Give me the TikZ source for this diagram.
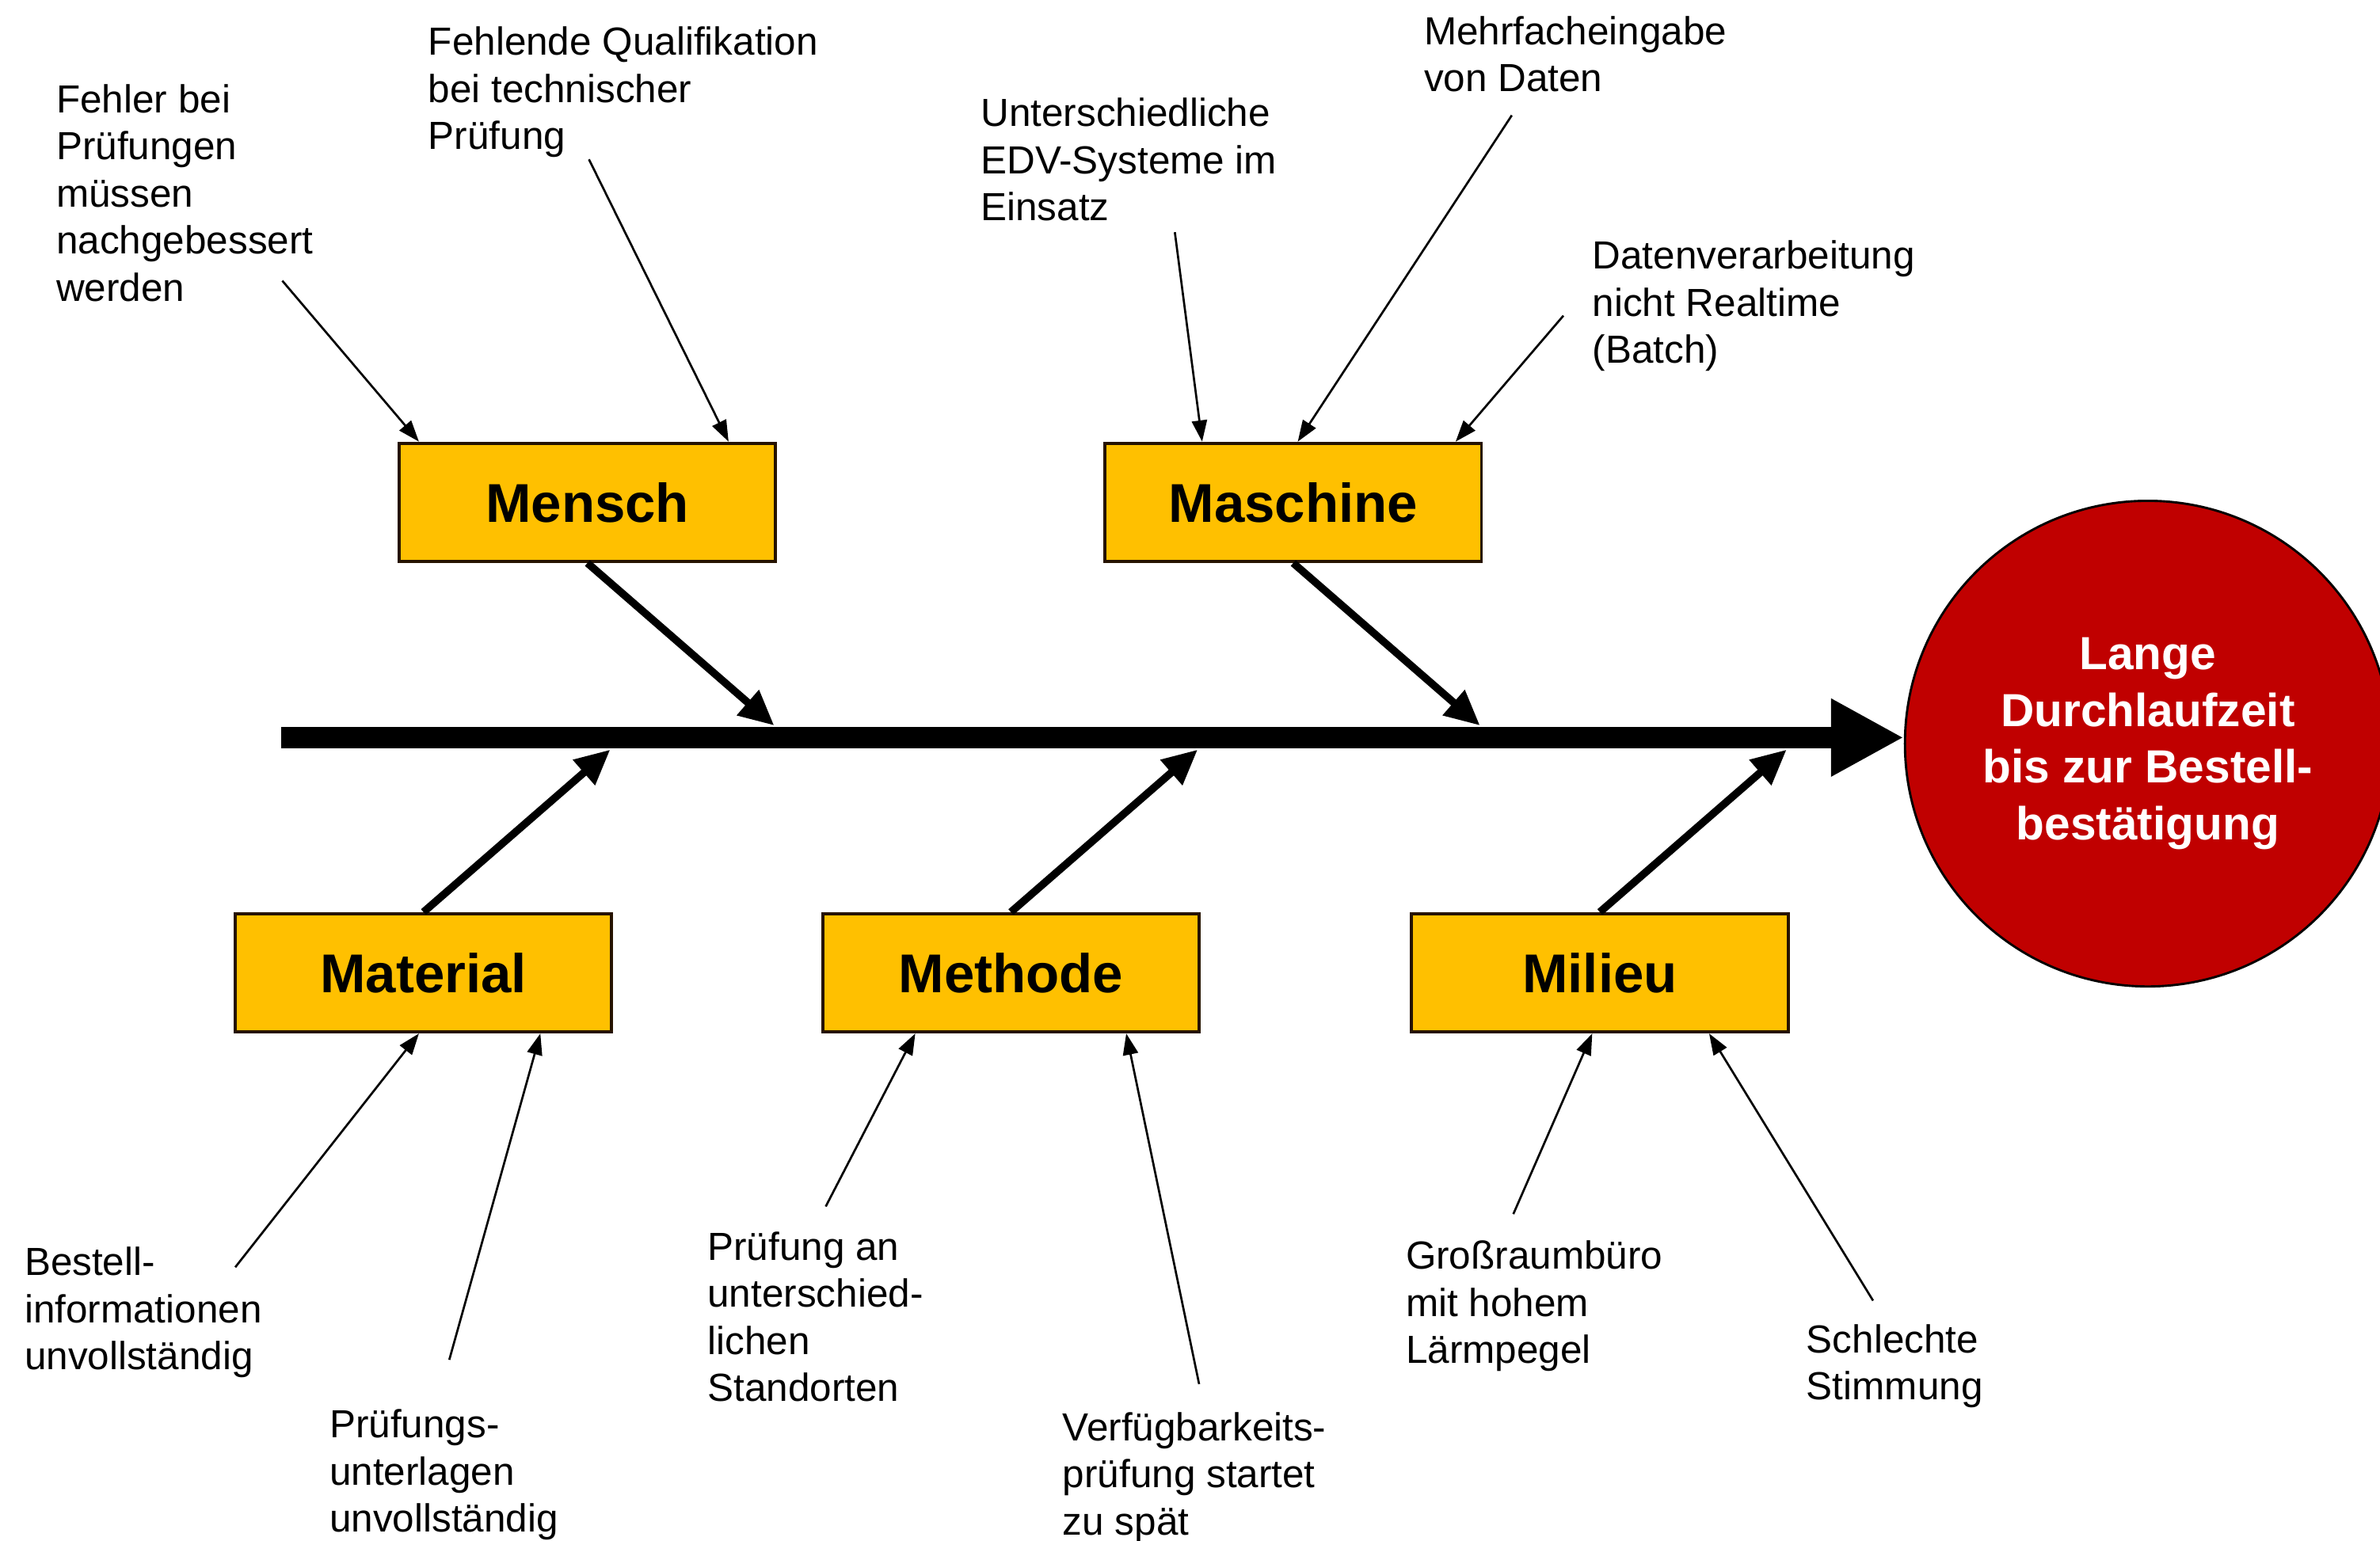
\documentclass[tikz,border=0pt]{standalone}
\usepackage{fontspec}
\setmainfont{Liberation Sans}
\usetikzlibrary{arrows.meta}
\definecolor{boxfill}{HTML}{FFC000}
\definecolor{effectred}{HTML}{C00000}
\begin{document}
\begin{tikzpicture}[x=1pt,y=-1pt,
  cat/.style={draw=black!85!orange, line width=2pt, fill=boxfill, minimum width=248pt, minimum height=78pt, inner sep=0pt, font=\fontsize{36}{43}\selectfont\bfseries},
  lbl/.style={anchor=north west, inner sep=0pt, align=left, font=\fontsize{25.8}{31}\selectfont},
  thinarrow/.style={line width=1.4pt, -{Triangle[length=14pt,width=10pt]}},
  brancharrow/.style={line width=5pt, -{Triangle[length=23pt,width=21pt]}},
  spinearrow/.style={line width=14pt, -{Triangle[length=48pt,width=48pt]}},
  effectnode/.style={circle, draw=black, line width=1.5pt, fill=effectred, minimum size=320pt, inner sep=0pt, text=white, align=center, font=\fontsize{30.6}{37.3}\selectfont\bfseries}]
\useasboundingbox (0,0) rectangle (1568,1015);

% effect
\node[effectnode] (effect) at (1415,490) {Lange\\Durchlaufzeit\\bis zur Bestell-\\bestätigung};
\coordinate (tail) at (185,486);
\draw[spinearrow] (tail) -- (tail -| effect.west);

% categories
\node[cat] (mensch) at (387,331) {Mensch};
\node[cat] (maschine) at (852,331) {Maschine};
\node[cat] (material) at (279,641) {Material};
\node[cat] (methode) at (666,641) {Methode};
\node[cat] (milieu) at (1054,641) {Milieu};

\coordinate (sp1) at (510,478);
\coordinate (sp2) at (975,478);
\coordinate (sp3) at (402,494);
\coordinate (sp4) at (789,494);
\coordinate (sp5) at (1177,494);
\draw[brancharrow] (mensch.south) -- (sp1);
\draw[brancharrow] (maschine.south) -- (sp2);
\draw[brancharrow] (material.north) -- (sp3);
\draw[brancharrow] (methode.north) -- (sp4);
\draw[brancharrow] (milieu.north) -- (sp5);

% labels
\node[lbl] (t1) at (37,55.5) {Fehler bei\\Prüfungen\\müssen\\nachgebessert\\werden};
\node[lbl] (t2) at (282,17.5) {Fehlende Qualifikation\\bei technischer\\Prüfung};
\node[lbl] (t3) at (646,64.5) {Unterschiedliche\\EDV-Systeme im\\Einsatz};
\node[lbl] (t4) at (938,10.5) {Mehrfacheingabe\\von Daten};
\node[lbl] (t5) at (1049,158.5) {Datenverarbeitung\\nicht Realtime\\(Batch)};
\node[lbl] (t6) at (16,821.5) {Bestell-\\informationen\\unvollständig};
\node[lbl] (t7) at (217,928.5) {Prüfungs-\\unterlagen\\unvollständig};
\node[lbl] (t8) at (466,811.5) {Prüfung an\\unterschied-\\lichen\\Standorten};
\node[lbl] (t9) at (700,930.5) {Verfügbarkeits-\\prüfung startet\\zu spät};
\node[lbl] (t10) at (926,817.5) {Großraumbüro\\mit hohem\\Lärmpegel};
\node[lbl] (t11) at (1190,872.5) {Schlechte\\Stimmung};

% arrow starts
\coordinate (a1) at (186,185);
\coordinate (a2) at (388,105);
\coordinate (a3) at (774,153);
\coordinate (a4) at (996,76);
\coordinate (a5) at (1030,208);
\coordinate (a6) at (155,835);
\coordinate (a7) at (296,896);
\coordinate (a8) at (544,795);
\coordinate (a9) at (790,912);
\coordinate (a10) at (997,800);
\coordinate (a11) at (1234,857);

\draw[thinarrow] (a1) -- ([xshift=14pt]mensch.north west);
\draw[thinarrow] (a2) -- ([xshift=218pt]mensch.north west);
\draw[thinarrow] (a3) -- ([xshift=65pt]maschine.north west);
\draw[thinarrow] (a4) -- ([xshift=128pt]maschine.north west);
\draw[thinarrow] (a5) -- ([xshift=232pt]maschine.north west);
\draw[thinarrow] (a6) -- ([xshift=122pt]material.south west);
\draw[thinarrow] (a7) -- ([xshift=202pt]material.south west);
\draw[thinarrow] (a8) -- ([xshift=62pt]methode.south west);
\draw[thinarrow] (a9) -- ([xshift=201pt]methode.south west);
\draw[thinarrow] (a10) -- ([xshift=120pt]milieu.south west);
\draw[thinarrow] (a11) -- ([xshift=197pt]milieu.south west);
\end{tikzpicture}
\end{document}
